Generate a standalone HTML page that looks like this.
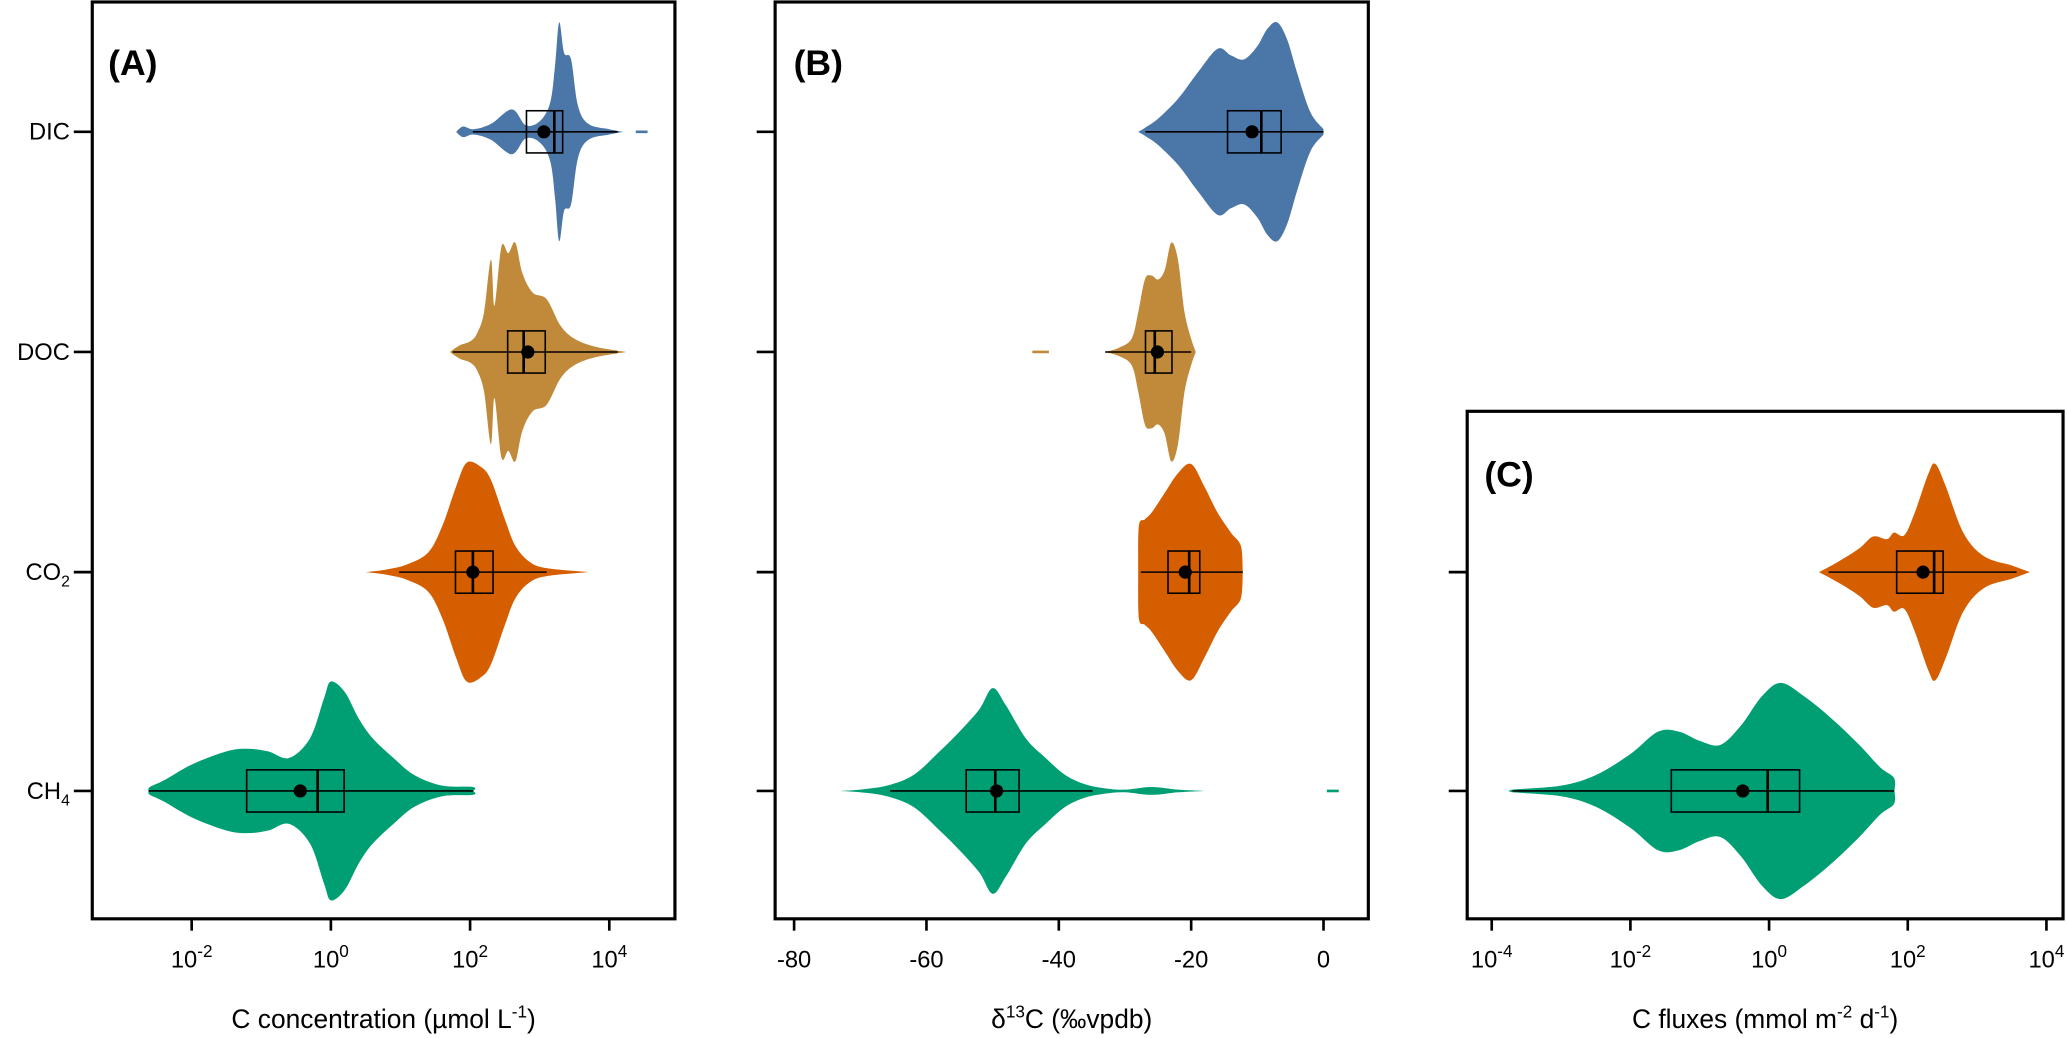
<!DOCTYPE html>
<html><head><meta charset="utf-8"><style>
html,body{margin:0;padding:0;background:#fff}
svg{display:block}
text{font-family:"Liberation Sans",sans-serif;fill:#000}
</style></head><body>
<svg id="fig" width="2067" height="1038" viewBox="0 0 1568 787.4" xmlns="http://www.w3.org/2000/svg"></svg>
<script>
const categories=["DIC","DOC","CO2","CH4"];
const rowY=[100,267,434,600];
const colors={DIC:"#4a76a8",DOC:"#c08a3a",CO2:"#d55e00",CH4:"#009e73"};
// Panel A (log10 µmol/L): violin value grid + relative density (0-83)
const aDICv=[1.8,1.9,2.05,2.3,2.6,2.8,3.0,3.15,3.22,3.28,3.35,3.45,3.55,3.7,4.0,4.2];
const aDICd=[0,4,2,6,17,5,8,22,50,83,60,55,20,6,2,0];
const aDOCv=[1.71,1.85,2.0,2.1,2.2,2.3,2.35,2.45,2.55,2.65,2.75,2.9,3.1,3.3,3.5,3.8,4.25];
const aDOCd=[0,5,8,14,30,70,35,80,75,83,60,45,40,20,10,4,0];
const aCO2v=[0.5,0.8,1.1,1.4,1.6,1.8,1.95,2.15,2.3,2.5,2.65,2.85,3.1,3.7];
const aCO2d=[0,2,6,15,35,65,83,80,70,40,20,8,3,0];
const aCH4v=[-2.62,-2.6,-2.4,-2.0,-1.5,-1.2,-0.9,-0.6,-0.3,-0.1,0,0.2,0.4,0.6,0.9,1.2,1.6,2.04,2.05];
const aCH4d=[0,3,8,20,30,32,30,25,40,70,83,75,55,40,25,12,4,3,0];
// box stats [whiskLo,q1,median,q3,whiskHi,mean]
const aBox={DIC:[2.04,2.81,3.21,3.33,4.12,3.06],DOC:[1.75,2.54,2.77,3.08,4.12,2.83],CO2:[0.98,1.79,2.04,2.33,3.1,2.04],CH4:[-2.62,-1.21,-0.19,0.19,2.04,-0.44]};
// Panel B (δ13C ‰)
const bDICv=[-28,-27,-25,-22,-19,-16,-14,-12,-10,-8.5,-7,-5.5,-4,-2,0];
const bDICd=[0,3,10,25,45,63,58,55,65,78,83,70,45,15,2];
const bDOCv=[-33,-31,-29,-28,-27,-26,-25,-24,-23,-22,-21,-20,-19.3];
const bDOCd=[0,3,10,30,55,58,55,62,83,70,30,10,0];
const bCO2v=[-28,-27.9,-27,-26,-24,-22,-20,-18,-16,-14,-12.5,-12.2];
const bCO2d=[0,35,40,45,60,75,82,65,45,30,20,0];
const bCH4v=[-73,-70,-66,-62,-58,-55,-52,-50,-48,-45,-42,-39,-36,-33,-30,-26,-22,-18];
const bCH4d=[0,1,4,12,30,45,62,78,65,40,25,12,5,2,1,3,1,0];
const bBox={DIC:[-26.9,-14.5,-9.4,-6.4,0,-10.8],DOC:[-33,-26.9,-25.5,-22.9,-20,-25.1],CO2:[-27.6,-23.5,-20.3,-18.7,-12.2,-20.9],CH4:[-65.5,-54,-49.6,-46,-34.9,-49.4]};
// Panel C (log10 mmol m-2 d-1)
const cCO2v=[0.72,1.0,1.3,1.5,1.7,1.8,1.95,2.1,2.3,2.4,2.55,2.8,3.1,3.5,3.76];
const cCO2d=[0,8,18,27,25,30,28,45,75,82,65,30,12,5,0];
const cCH4v=[-3.72,-3.7,-3.0,-2.5,-2.0,-1.6,-1.3,-1.0,-0.7,-0.4,-0.1,0.17,0.5,0.9,1.3,1.6,1.8,1.81];
const cCH4d=[0,1,4,12,28,45,45,38,35,50,72,82,72,55,35,18,10,0];
const cBox={CO2:[0.86,1.84,2.38,2.51,3.57,2.22],CH4:[-3.7,-1.41,-0.02,0.44,1.8,-0.38]};
const aTicks=[-2,0,2,4], bTicks=[-80,-60,-40,-20,0], cTicks=[-4,-2,0,2,4];

const NS="http://www.w3.org/2000/svg";
const svg=document.getElementById("fig");
function el(tag,attrs,parent){const e=document.createElementNS(NS,tag);for(const k in attrs)e.setAttribute(k,attrs[k]);(parent||svg).appendChild(e);return e;}
const xA=v=>251+52.8*v, xB=v=>1004+5.02*v, xC=v=>1342+52.6*v;

function smooth(pts){
  let d="M"+pts[0][0].toFixed(1)+","+pts[0][1].toFixed(1);
  for(let i=0;i<pts.length-1;i++){
    const p0=pts[Math.max(0,i-1)],p1=pts[i],p2=pts[i+1],p3=pts[Math.min(pts.length-1,i+2)];
    const c1=[p1[0]+(p2[0]-p0[0])/6,p1[1]+(p2[1]-p0[1])/6];
    const c2=[p2[0]-(p3[0]-p1[0])/6,p2[1]-(p3[1]-p1[1])/6];
    d+="C"+c1[0].toFixed(1)+","+c1[1].toFixed(1)+" "+c2[0].toFixed(1)+","+c2[1].toFixed(1)+" "+p2[0].toFixed(1)+","+p2[1].toFixed(1);
  }
  return d;
}
function violin(g,vals,dens,sx,y,col,name){
  const top=vals.map((v,i)=>[sx(v),y-dens[i]]);
  const bot=vals.map((v,i)=>[sx(v),y+dens[i]]).reverse();
  const d=smooth(top)+"L"+smooth(bot).slice(1)+"Z";
  const p=el("path",{d:d,fill:col,stroke:"none"},g);
  
  
}
function box(g,s,sx,y,name){
  const bg=el("g",{},g);
  
  
  el("line",{x1:sx(s[0]),x2:sx(s[4]),y1:y,y2:y,stroke:"#000","stroke-width":1.2},bg);
  el("rect",{x:sx(s[1]),y:y-16,width:sx(s[3])-sx(s[1]),height:32,fill:"none",stroke:"#000","stroke-width":1.2},bg);
  el("line",{x1:sx(s[2]),x2:sx(s[2]),y1:y-16,y2:y+16,stroke:"#000","stroke-width":2},bg);
  el("circle",{cx:sx(s[5]),cy:y,r:5,fill:"#000"},bg);
}
function panel(name,x0,x1,y0,y1,label,lx,ly,rows,sx,ticks,tickFmt,title,showCat){
  const g=el("g",{});
  
  
  rows.forEach(r=>{
    violin(g,r.v,r.d,sx,rowY[r.i],colors[categories[r.i]],"violin-"+categories[r.i].toLowerCase());
    box(g,r.b,sx,rowY[r.i],"boxplot-"+categories[r.i].toLowerCase());
  });
  const fr=el("rect",{x:x0,y:y0,width:x1-x0,height:y1-y0,fill:"none",stroke:"#000","stroke-width":2.4},g);
  
  
  const pl=el("text",{x:lx,y:ly,"font-size":27,"font-weight":"bold"},g);
  pl.textContent=label;
  
  
  rows.forEach(r=>{
    const y=rowY[r.i];
    el("line",{x1:x0-14,x2:x0,y1:y,y2:y,stroke:"#000","stroke-width":2},g);
    if(showCat){
      const t=el("text",{x:x0-17,y:y+6,"font-size":18,"text-anchor":"end"},g);
      
      
      const c=categories[r.i];
      if(c==="CO2"||c==="CH4"){t.textContent=c.slice(0,2);const s=el("tspan",{"font-size":12,dy:5},t);s.textContent=c.slice(2);}
      else t.textContent=c;
    }
  });
  ticks.forEach(tv=>{
    const x=sx(tv);
    el("line",{x1:x,x2:x,y1:y1,y2:y1+9,stroke:"#000","stroke-width":2},g);
    const t=el("text",{x:x,y:734,"font-size":18,"text-anchor":"middle"},g);
    
    
    tickFmt(t,tv);
  });
  const at=el("text",{x:(x0+x1)/2,y:780,"font-size":20,"text-anchor":"middle"},g);
  
  
  title(at);
}
const logFmt=(t,v)=>{t.textContent="10";const s=el("tspan",{"font-size":13,dy:-8},t);s.textContent=String(v);};
const sup=(t,txt)=>{const s=el("tspan",{"font-size":13,dy:-8},t);s.textContent=txt;const r=el("tspan",{dy:8},t);return r;};

panel("panel-a",70,512,1.5,697,"(A)",82,57,[
  {i:0,v:aDICv,d:aDICd,b:aBox.DIC},{i:1,v:aDOCv,d:aDOCd,b:aBox.DOC},
  {i:2,v:aCO2v,d:aCO2d,b:aBox.CO2},{i:3,v:aCH4v,d:aCH4d,b:aBox.CH4}],
  xA,aTicks,logFmt,t=>{t.textContent="C concentration (µmol L";const r=sup(t,"-1");r.textContent=")";},true);
el("line",{x1:xA(4.38),x2:xA(4.55),y1:rowY[0],y2:rowY[0],stroke:colors.DIC,"stroke-width":2});

panel("panel-b",588,1038,1.5,697,"(B)",602,57,[
  {i:0,v:bDICv,d:bDICd,b:bBox.DIC},{i:1,v:bDOCv,d:bDOCd,b:bBox.DOC},
  {i:2,v:bCO2v,d:bCO2d,b:bBox.CO2},{i:3,v:bCH4v,d:bCH4d,b:bBox.CH4}],
  xB,bTicks,(t,v)=>{t.textContent=String(v);},t=>{t.textContent="δ";const r=sup(t,"13");r.textContent="C (‰vpdb)";},false);
el("line",{x1:xB(-44),x2:xB(-41.5),y1:rowY[1],y2:rowY[1],stroke:colors.DOC,"stroke-width":2});
el("line",{x1:xB(0.5),x2:xB(2.3),y1:rowY[3],y2:rowY[3],stroke:colors.CH4,"stroke-width":2});

panel("panel-c",1113,1565,312,697,"(C)",1126,369,[
  {i:2,v:cCO2v,d:cCO2d,b:cBox.CO2},{i:3,v:cCH4v,d:cCH4d,b:cBox.CH4}],
  xC,cTicks,logFmt,t=>{t.textContent="C fluxes (mmol m";let r=sup(t,"-2");r.textContent=" d";r=sup(t,"-1");r.textContent=")";},false);
</script>
</body></html>
